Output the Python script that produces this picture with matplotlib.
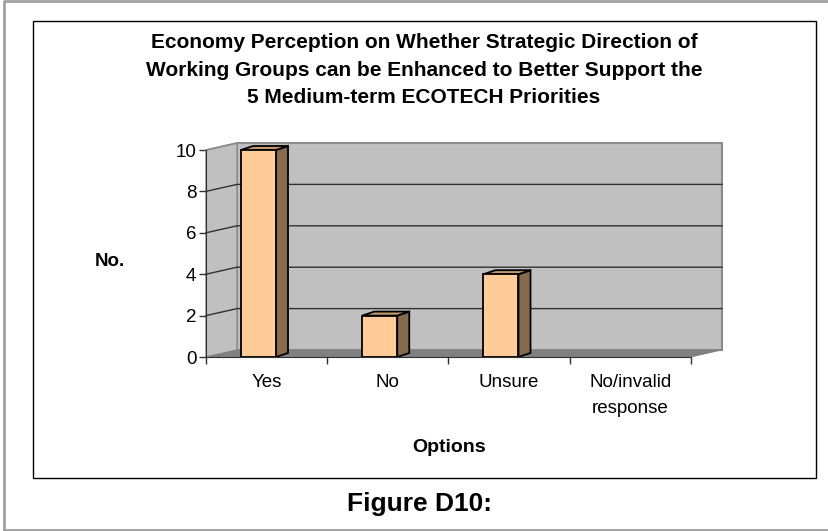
import matplotlib
matplotlib.use("Agg")
import matplotlib.pyplot as plt
from matplotlib.lines import Line2D
from matplotlib.patches import Polygon, Rectangle

plt.rcParams["font.family"] = ["Liberation Sans", "DejaVu Sans"]

options = ["Yes", "No", "Unsure", "No/invalid\nresponse"]
counts = [10, 2, 4, 0]
yticks = [0, 2, 4, 6, 8, 10]
title = ("Economy Perception on Whether Strategic Direction of\n"
         "Working Groups can be Enhanced to Better Support the\n"
         "5 Medium-term ECOTECH Priorities")

W, H = 829, 531
fig = plt.figure(figsize=(W / 100, H / 100), dpi=100, facecolor="white")


def px_box(x0, y0, x1, y1):
    # pixel box (y from the top) -> figure fractions
    return [x0 / W, 1 - y1 / H, (x1 - x0) / W, (y1 - y0) / H]


# outer grey frame has no right side, the black chart frame is closed
fig.add_artist(Line2D([4 / W, 4 / W, 829 / W, ], [1 - 530 / H, 1 - 1 / H, 1 - 1 / H],
                      color="#a0a0a0", lw=2, transform=fig.transFigure))
fig.add_artist(Line2D([4 / W, 829 / W], [1 - 530 / H, 1 - 530 / H],
                      color="#a0a0a0", lw=2, transform=fig.transFigure))
fig.add_artist(Rectangle((33.5 / W, 1 - 477.5 / H), 783 / W, 457 / H, transform=fig.transFigure,
                         fc="none", ec="black", lw=1))

ax = fig.add_axes(px_box(206, 150, 691, 357))
ax.set_xlim(0, 4)
ax.set_ylim(0, 10)
ax.patch.set_visible(False)

# oblique depth of the 3d box, in data units
dx = 31 / (485 / 4)
dy = 7 / (207 / 10)

# walls and floor
ax.add_patch(Polygon([(dx, dy), (4 + dx, dy), (4 + dx, 10 + dy), (dx, 10 + dy)],
                     fc="#c0c0c0", ec="#8c8c8c", lw=1.5, clip_on=False, zorder=1))
ax.add_patch(Polygon([(0, 0), (dx, dy), (dx, 10 + dy), (0, 10)],
                     fc="#c0c0c0", ec="#8c8c8c", lw=1, clip_on=False, zorder=1))
ax.add_patch(Polygon([(0, 0), (4, 0), (4 + dx, dy), (dx, dy)],
                     fc="#808080", ec="#808080", lw=0.5, clip_on=False, zorder=1))

# gridlines go along the back wall and down the side wall
for v in yticks[1:-1]:
    ax.plot([0, dx, 4 + dx], [v, v + dy, v + dy], color="#303030", lw=1, clip_on=False, zorder=2)
ax.plot([0, dx], [10, 10 + dy], color="#8c8c8c", lw=1.2, clip_on=False, zorder=2)

# bars, front face plus side and top
bar_w = 35 / (485 / 4)
bar_off = 35 / (485 / 4)
bar_dx = 12 / (485 / 4)
bar_dy = 4 / (207 / 10)
for i, v in enumerate(counts):
    if v == 0:
        continue
    x0 = i + bar_off
    x1 = x0 + bar_w
    ax.add_patch(Polygon([(x1, 0), (x1 + bar_dx, bar_dy), (x1 + bar_dx, v + bar_dy), (x1, v)],
                         fc="#866b4f", ec="black", lw=1.3, clip_on=False, zorder=3))
    ax.add_patch(Polygon([(x0, v), (x1, v), (x1 + bar_dx, v + bar_dy), (x0 + bar_dx, v + bar_dy)],
                         fc="#c09a6c", ec="black", lw=1.3, clip_on=False, zorder=3))
    ax.add_patch(Rectangle((x0, 0), bar_w, v, fc="#ffcc99", ec="black", lw=1.3,
                           clip_on=False, zorder=4))

for s in ["top", "right"]:
    ax.spines[s].set_visible(False)
for s in ["left", "bottom"]:
    ax.spines[s].set_color("#303030")
    ax.spines[s].set_zorder(5)

ax.set_yticks(yticks)
ax.set_xticks(range(5))
ax.set_xticklabels([])
ax.tick_params(axis="y", length=5, width=1, color="#303030", labelsize=13.5, pad=2)
ax.tick_params(axis="x", length=5, width=1, color="#303030")

for i, lab in enumerate(options):
    ax.annotate(lab, (i + 0.5, 0), xytext=(0, -17), xycoords=("data", "axes fraction"),
                textcoords="offset pixels", ha="center", va="top", fontsize=13.5,
                linespacing=1.7)

fig.text(424 / W, 1 - 70 / H, title, ha="center", va="center", fontsize=15, fontweight="bold",
         linespacing=1.55)
fig.text(110 / W, 1 - 261 / H, "No.", ha="center", va="center", fontsize=13.5, fontweight="bold")
fig.text(449 / W, 1 - 447 / H, "Options", ha="center", va="center", fontsize=14, fontweight="bold")
fig.text(420 / W, 1 - 504 / H, "Figure D10:", ha="center", va="center", fontsize=19, fontweight="bold")

fig.savefig("out.png", dpi=100, facecolor="white")
